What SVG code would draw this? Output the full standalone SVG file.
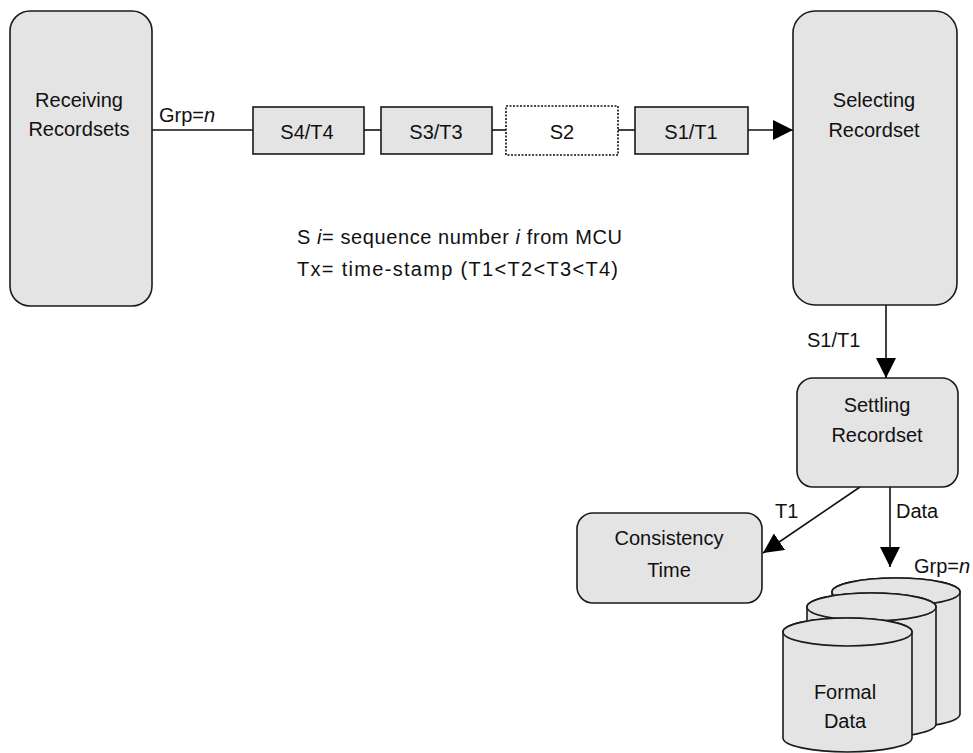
<svg xmlns="http://www.w3.org/2000/svg" width="973" height="753" viewBox="0 0 973 753">
<defs>
<style>
.node{fill:#e4e4e4;stroke:#1a1a1a;stroke-width:1.6}
.t{font-family:"Liberation Sans",Arial,sans-serif;font-size:20px;fill:#111}
.c{text-anchor:middle}
.ln{stroke:#111;stroke-width:1.6;fill:none}
.it{font-style:italic}
</style>
<marker id="ah" viewBox="0 0 10 10" refX="10" refY="5" markerWidth="10" markerHeight="10" markerUnits="userSpaceOnUse" orient="auto">
<path d="M0,0 L10,5 L0,10 Z" fill="#000"/>
</marker>
<marker id="ahb" viewBox="0 0 10 10" refX="10" refY="5" markerWidth="20" markerHeight="20" markerUnits="userSpaceOnUse" orient="auto">
<path d="M0,0 L10,5 L0,10 Z" fill="#000"/>
</marker>
</defs>

<g id="connectors">
<line class="ln" x1="152" y1="130" x2="253" y2="130"/>
<line class="ln" x1="364" y1="130" x2="381" y2="130"/>
<line class="ln" x1="492" y1="130" x2="506" y2="130"/>
<line class="ln" x1="618" y1="130" x2="635" y2="130"/>
<line class="ln" x1="748" y1="130" x2="793" y2="130" marker-end="url(#ahb)"/>
<line class="ln" x1="886" y1="305" x2="886" y2="378" marker-end="url(#ahb)"/>
<line class="ln" x1="860" y1="487" x2="763" y2="553" stroke-width="1.2" marker-end="url(#ahb)"/>
<line class="ln" x1="890" y1="487" x2="890" y2="567" marker-end="url(#ahb)"/>
<text class="t" x="159" y="122">Grp=<tspan class="it">n</tspan></text>
<text class="t" x="807" y="347">S1/T1</text>
<text class="t" x="775" y="518">T1</text>
<text class="t" x="896" y="518">Data</text>
<text class="t" x="914" y="573">Grp=<tspan class="it">n</tspan></text>
</g>

<g id="receiving">
<rect class="node" x="10" y="11" width="142" height="295" rx="20" ry="20"/>
<text class="t c" x="79" y="107">Receiving</text>
<text class="t c" x="79" y="136">Recordsets</text>
</g>

<g id="s4t4">
<rect class="node" x="253" y="107" width="111" height="47"/>
<text class="t c" x="307" y="139">S4/T4</text>
</g>
<g id="s3t3">
<rect class="node" x="381" y="107" width="111" height="47"/>
<text class="t c" x="436" y="139">S3/T3</text>
</g>
<g id="s2">
<rect x="506" y="106" width="112" height="49" fill="#fff" stroke="#111" stroke-width="1.6" stroke-dasharray="2,1.5"/>
<text class="t c" x="562" y="139">S2</text>
</g>
<g id="s1t1">
<rect class="node" x="635" y="107" width="113" height="47"/>
<text class="t c" x="691" y="139">S1/T1</text>
</g>

<g id="selecting">
<rect class="node" x="793" y="11" width="164" height="294" rx="22" ry="22"/>
<text class="t c" x="874" y="107">Selecting</text>
<text class="t c" x="874" y="137">Recordset</text>
</g>

<g id="legend">
<text class="t" x="297" y="244" font-size="19" textLength="325" lengthAdjust="spacing">S <tspan class="it">i</tspan>= sequence number <tspan class="it">i</tspan> from MCU</text>
<text class="t" x="297" y="276" font-size="19" textLength="321" lengthAdjust="spacing">Tx= time-stamp (T1&lt;T2&lt;T3&lt;T4)</text>
</g>

<g id="settling">
<rect class="node" x="797" y="378" width="161" height="109" rx="16" ry="16"/>
<text class="t c" x="877" y="412">Settling</text>
<text class="t c" x="877" y="442">Recordset</text>
</g>

<g id="consistency">
<rect class="node" x="577" y="513" width="185" height="90" rx="16" ry="16"/>
<text class="t c" x="669" y="545">Consistency</text>
<text class="t c" x="669" y="577">Time</text>
</g>

<g id="formal-data">
<path class="node" d="M832,592 V714 A64,14 0 0 0 960,714 V592 A64,14 0 0 0 832,592 Z"/>
<ellipse class="node" cx="896" cy="592" rx="64" ry="14"/>
<path class="node" d="M807,607 V724 A64.5,14 0 0 0 936,724 V607 A64.5,14 0 0 0 807,607 Z"/>
<ellipse class="node" cx="871.5" cy="607" rx="64.5" ry="14"/>
<path class="node" d="M783,632 V738 A64.5,14 0 0 0 912,738 V632 A64.5,14 0 0 0 783,632 Z"/>
<ellipse class="node" cx="847.5" cy="632" rx="64.5" ry="14"/>
<text class="t c" x="845" y="699">Formal</text>
<text class="t c" x="845" y="728">Data</text>
</g>
</svg>
